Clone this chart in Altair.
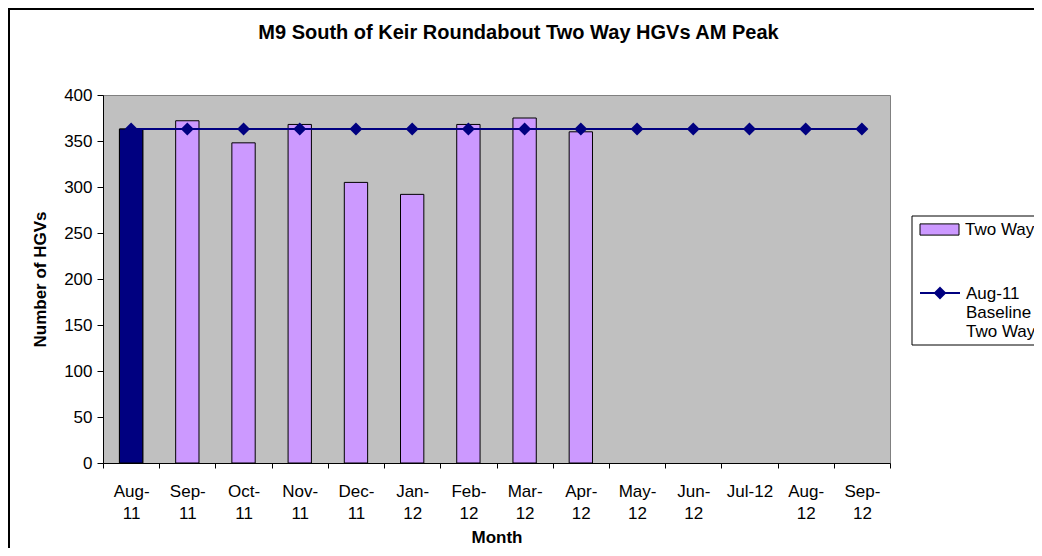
import altair as alt
import pandas as pd
import json

# ---------------- data ----------------
months = ["Aug-11", "Sep-11", "Oct-11", "Nov-11", "Dec-11", "Jan-12", "Feb-12",
          "Mar-12", "Apr-12", "May-12", "Jun-12", "Jul-12", "Aug-12", "Sep-12"]
two_way_months = ["Aug-11", "Sep-11", "Oct-11", "Nov-11", "Dec-11", "Jan-12",
                  "Feb-12", "Mar-12", "Apr-12"]
two_way = [363, 372, 348, 368, 305, 292, 368, 375, 360]
baseline = [363, 363, 363, 363, 363, 363, 363, 363, 363, 363, 363, 363, 363, 363]
bar_series = "Two Way"
baseline_lines = ["Aug-11", "Baseline", "Two Way"]
baseline_series = " ".join(baseline_lines)
y_ticks = [0, 50, 100, 150, 200, 250, 300, 350, 400]
title_text = "M9 South of Keir Roundabout Two Way HGVs AM Peak"

PURPLE = "#CC99FF"
NAVY = "#000080"
PLOT_BG = "#C0C0C0"
FONT = "Liberation Sans"

bars_df = pd.DataFrame({"month": two_way_months, "value": two_way, "series": bar_series})
first_df = bars_df.iloc[[0]].copy()
line_df = pd.DataFrame({"month": months, "value": baseline, "series": baseline_series})
one_df = pd.DataFrame({"k": [0]})

x_scale = alt.Scale(domain=months, paddingInner=0, paddingOuter=0)
y_scale = alt.Scale(domain=[0, 400], nice=False)

label_expr = ("(datum.label == 'Jul-12' || indexof(datum.label, '-') < 0) ? datum.label : "
              "[split(datum.label, '-')[0] + '-', split(datum.label, '-')[1]]")

x_axis = alt.Axis(
    title="Month", labelAngle=0, labelExpr=label_expr, labelFontSize=17,
    labelLineHeight=22, labelPadding=15, tickSize=5, tickBand="extent",
    labelOverlap=False, titleFontSize=17, titleFontWeight="bold",
    titleY=66, titleBaseline="top", domainColor="black", tickColor="black",
    labelColor="black", titleColor="black", grid=False,
)
y_axis = alt.Axis(
    values=y_ticks, title="Number of HGVs", titleFontSize=17,
    titleFontWeight="bold", titleX=-63, titleBaseline="middle",
    labelFontSize=17, tickSize=6, labelPadding=5, grid=False,
    domainColor="black", tickColor="black", labelColor="black",
    titleColor="black",
)

X = alt.X("month:N", sort=months, scale=x_scale, axis=x_axis)
Y = alt.Y("value:Q", scale=y_scale, axis=y_axis)

rect_path = "M-0.975,-0.28L0.975,-0.28L0.975,0.28L-0.975,0.28Z"
line_path = "M-1,0.35L1,0.35M0,0.1L0.25,0.35L0,0.6L-0.25,0.35Z"

bar_legend = alt.Legend(
    orient="none", legendX=816, legendY=114, title=None,
    symbolType=rect_path, symbolSize=1600, symbolStrokeColor="black",
    symbolStrokeWidth=1, labelFontSize=17, labelOffset=5, padding=0,
    labelColor="black", labelFont=FONT,
)
line_legend = alt.Legend(
    orient="none", legendX=816, legendY=170, title=None,
    symbolType=line_path, symbolSize=1600, symbolFillColor=NAVY,
    symbolStrokeWidth=2, labelFontSize=17, labelOffset=5, padding=0,
    labelColor="black", labelFont=FONT, labelBaseline="top",
    labelExpr=json.dumps(baseline_lines), labelLimit=300,
)

frame = alt.Chart(one_df).mark_rect(fillOpacity=0, stroke="black", strokeWidth=2).encode(
    x=alt.value(-94), x2=alt.value(1000), y=alt.value(-86), y2=alt.value(700)
)
legend_box = alt.Chart(one_df).mark_rect(fill="white", stroke="black", strokeWidth=1).encode(
    x=alt.value(809), x2=alt.value(1000), y=alt.value(121), y2=alt.value(250)
)

bars = alt.Chart(bars_df).mark_bar(width={"band": 0.415}, stroke="black", strokeWidth=1).encode(
    x=X, y=Y,
    fill=alt.Fill("series:N", scale=alt.Scale(domain=[bar_series], range=[PURPLE]), legend=bar_legend),
)
first_bar = alt.Chart(first_df).mark_bar(width={"band": 0.415}, stroke="black", strokeWidth=1, fill=NAVY).encode(
    x=X, y=Y
)
line = alt.Chart(line_df).mark_line(strokeWidth=2).encode(
    x=X, y=Y,
    stroke=alt.Stroke("series:N", scale=alt.Scale(domain=[baseline_series], range=[NAVY]), legend=line_legend),
)
points = alt.Chart(line_df).mark_point(shape="diamond", filled=True, size=169, color=NAVY, opacity=1).encode(
    x=X, y=Y
)

chart = alt.layer(frame, legend_box, bars, first_bar, line, points).properties(
    width=787, height=368,
    padding={"left": 95, "top": 87, "right": 144, "bottom": 85},
    autosize=alt.AutoSizeParams(type="none"),
    title=alt.TitleParams(
        text=title_text, fontSize=20, fontWeight="bold", font=FONT,
        anchor="middle", frame="group", dx=22, offset=0, dy=55,
        baseline="bottom", color="black",
    ),
).configure(
    font=FONT,
    view=alt.ViewConfig(fill=PLOT_BG, stroke="#808080", strokeWidth=1),
    background="white",
)

chart.save("out.html", embed_options={"renderer": "svg", "actions": False})
